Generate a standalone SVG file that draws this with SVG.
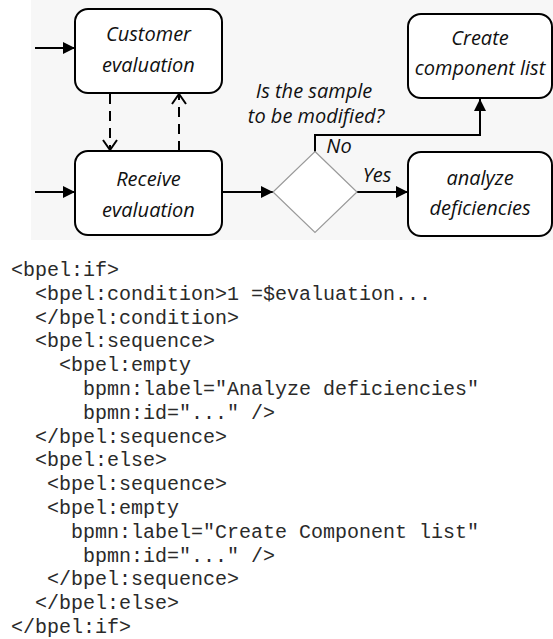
<svg xmlns="http://www.w3.org/2000/svg" width="553" height="639" viewBox="0 0 553 639">
<style>
.bg{fill:#f7f7f7}
.box{fill:#fff;stroke:#000;stroke-width:2}
.dia{fill:#fff;stroke:#9a9a9a;stroke-width:1.2}
.lbl{font-family:"Open Sans","Noto Sans",sans-serif;font-style:italic;font-size:20px;fill:#111;text-anchor:middle}
.edge{fill:none;stroke:#000;stroke-width:2}
.dash{fill:none;stroke:#000;stroke-width:2;stroke-dasharray:10 7}
.code{font-family:"Liberation Mono","Courier New",monospace;font-size:20px;fill:#2a2a2a}
</style>
<defs>
<marker id="ah" viewBox="0 0 12 12" refX="12" refY="6" markerWidth="12" markerHeight="12" markerUnits="userSpaceOnUse" orient="auto">
<path d="M0,0 L12,6 L0,12 Z" fill="#000"/>
</marker>
<marker id="oh" viewBox="0 0 12 16" refX="11" refY="8" markerWidth="12" markerHeight="16" markerUnits="userSpaceOnUse" orient="auto">
<path d="M1,1 L11,8 L1,15" fill="none" stroke="#000" stroke-width="2"/>
</marker>
</defs>
<rect class="bg" x="31" y="0" width="522" height="240"/>
<g id="connectors">
<line class="edge" x1="35" y1="48" x2="75" y2="48" marker-end="url(#ah)"/>
<line class="edge" x1="35" y1="192" x2="75" y2="192" marker-end="url(#ah)"/>
<line class="dash" x1="110" y1="94" x2="110" y2="150" marker-end="url(#oh)"/>
<line class="dash" x1="179" y1="151" x2="179" y2="94" marker-end="url(#oh)"/>
<line class="edge" x1="222" y1="192" x2="273" y2="192" marker-end="url(#ah)"/>
<path class="edge" d="M315,152 V135 H480 V99" marker-end="url(#ah)"/>
<line class="edge" x1="357" y1="192" x2="408" y2="192" marker-end="url(#ah)"/>
<text class="lbl" x="339" y="153">No</text>
<text class="lbl" x="377" y="182">Yes</text>
</g>
<g id="customer-evaluation">
<rect class="box" x="75" y="9" width="147" height="84" rx="13"/>
<text class="lbl" x="148.5" y="41">Customer</text>
<text class="lbl" x="148.5" y="72">evaluation</text>
</g>
<g id="receive-evaluation">
<rect class="box" x="75" y="151" width="147" height="84" rx="13"/>
<text class="lbl" x="148.5" y="186">Receive</text>
<text class="lbl" x="148.5" y="217">evaluation</text>
</g>
<g id="gateway">
<path class="dia" d="M315,151.5 L357,192 L315,232.5 L273,192 Z"/>
<text class="lbl" x="314" y="98">Is the sample</text>
<text class="lbl" x="316" y="123">to be modified?</text>
</g>
<g id="create-component-list">
<rect class="box" x="408" y="14" width="144" height="84" rx="13"/>
<text class="lbl" x="480" y="45">Create</text>
<text class="lbl" x="480" y="75">component list</text>
</g>
<g id="analyze-deficiencies">
<rect class="box" x="408" y="152" width="144" height="84" rx="13"/>
<text class="lbl" x="480" y="185">analyze</text>
<text class="lbl" x="480" y="215">deficiencies</text>
</g>
<g id="code">
<text class="code" x="11" y="276">&lt;bpel:if&gt;</text>
<text class="code" x="35" y="299.8">&lt;bpel:condition&gt;1 =$evaluation...</text>
<text class="code" x="35" y="323.6">&lt;/bpel:condition&gt;</text>
<text class="code" x="35" y="347.4">&lt;bpel:sequence&gt;</text>
<text class="code" x="59" y="371.2">&lt;bpel:empty</text>
<text class="code" x="83" y="395">bpmn:label="Analyze deficiencies"</text>
<text class="code" x="83" y="418.8">bpmn:id="..." /&gt;</text>
<text class="code" x="35" y="442.6">&lt;/bpel:sequence&gt;</text>
<text class="code" x="35" y="466.4">&lt;bpel:else&gt;</text>
<text class="code" x="47" y="490.2">&lt;bpel:sequence&gt;</text>
<text class="code" x="47" y="514">&lt;bpel:empty</text>
<text class="code" x="71" y="537.8">bpmn:label="Create Component list"</text>
<text class="code" x="83" y="561.6">bpmn:id="..." /&gt;</text>
<text class="code" x="47" y="585.4">&lt;/bpel:sequence&gt;</text>
<text class="code" x="35" y="609.2">&lt;/bpel:else&gt;</text>
<text class="code" x="11" y="633">&lt;/bpel:if&gt;</text>
</g>
</svg>
